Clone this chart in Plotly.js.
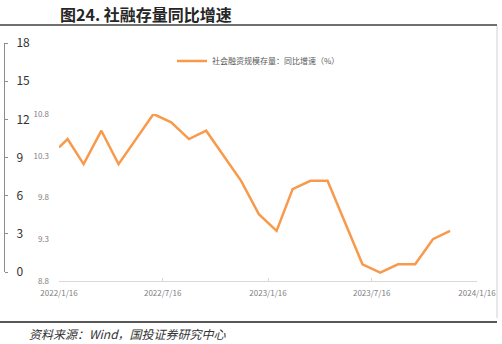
<!DOCTYPE html>
<html>
<head>
<meta charset="utf-8">
<script src="https://cdn.plot.ly/plotly-3.0.1.min.js"></script>
<style>html,body{margin:0;padding:0;background:#fff;}#chart{width:502px;height:344px;}</style>
</head>
<body>
<div id="chart"></div>
<script>
// Data
const dates = ['2022-01-16','2022-01-31','2022-02-28','2022-03-31','2022-04-30','2022-05-31','2022-06-30',
  '2022-07-31','2022-08-31','2022-09-30','2022-10-31','2022-11-30','2022-12-31',
  '2023-01-31','2023-02-28','2023-03-31','2023-04-30','2023-05-31','2023-06-30',
  '2023-07-31','2023-08-31','2023-09-30','2023-10-31','2023-11-30'];
const growth = [10.4,10.5,10.2,10.6,10.2,10.5,10.8,10.7,10.5,10.6,10.3,10.0,9.6,
  9.4,9.9,10.0,10.0,9.5,9.0,8.9,9.0,9.0,9.3,9.4];
const seriesName = '社会融资规模存量：同比增速（%）';
const yTicks = [8.8, 9.3, 9.8, 10.3, 10.8];
const xTicks = ['2022-01-16','2022-07-16','2023-01-16','2023-07-16','2024-01-16'];
const xTickText = ['2022/1/16','2022/7/16','2023/1/16','2023/7/16','2024/1/16'];
const leftTicks = [0, 3, 6, 9, 12, 15, 18];
const titleText = '图24. 社融存量同比增速';
const sourceText = '资料来源：Wind，国投证券研究中心';

const W = 502, H = 344;
const px = v => v / W;
const py = v => 1 - v / H;

const traces = [
  {
    x: dates, y: growth, type: 'scatter', mode: 'lines', name: seriesName,
    line: {color: '#F79A4C', width: 2.5}, cliponaxis: false, hoverinfo: 'skip'
  },
  {
    x: [null], y: [null], xaxis: 'x2', yaxis: 'y2', type: 'scatter', mode: 'lines',
    showlegend: false, hoverinfo: 'skip'
  }
];

const layout = {
  width: W, height: H,
  margin: {l: 0, r: 0, t: 0, b: 0},
  paper_bgcolor: '#fff', plot_bgcolor: 'rgba(0,0,0,0)',
  font: {family: '"Noto Sans CJK SC", "Noto Sans", sans-serif', color: '#808080'},
  showlegend: true,
  legend: {
    x: px(172), y: py(61), xanchor: 'left', yanchor: 'middle',
    orientation: 'h', bgcolor: 'rgba(0,0,0,0)',
    font: {size: 8, color: '#595959'}
  },
  xaxis: {
    domain: [px(59), px(477)], anchor: 'y',
    type: 'date', range: ['2022-01-16', '2024-01-16'],
    tickvals: xTicks, ticktext: xTickText,
    showgrid: false, zeroline: false,
    showline: true, linecolor: '#d9d9d9', linewidth: 1,
    ticks: 'inside', ticklen: 3, tickcolor: '#d9d9d9',
    ticklabelstandoff: 4,
    tickfont: {size: 8, color: '#808080'}
  },
  yaxis: {
    domain: [py(281), py(114)], anchor: 'x',
    range: [8.8, 10.8], tickvals: yTicks, ticktext: yTicks.map(v => v.toFixed(1)),
    showgrid: false, zeroline: false, showline: false, ticks: '',
    ticklabelstandoff: 9,
    tickfont: {size: 8, color: '#808080'}
  },
  xaxis2: {domain: [0, 0.01], anchor: 'y2', visible: false, range: [0, 1]},
  yaxis2: {
    domain: [py(272), py(43)], anchor: 'free', position: px(4), side: 'right',
    range: [0, 18], tickvals: leftTicks,
    showgrid: false, zeroline: false,
    showline: true, linecolor: '#8c8c8c', linewidth: 1,
    ticks: 'outside', ticklen: 3, tickcolor: '#8c8c8c',
    ticklabelstandoff: 6,
    tickfont: {size: 12, color: '#333'}
  },
  shapes: [
    {type: 'line', xref: 'paper', yref: 'paper', x0: 0, x1: px(497), y0: py(25), y1: py(25),
      line: {color: '#404040', width: 1.5}},
    {type: 'line', xref: 'paper', yref: 'paper', x0: 0, x1: px(497), y0: py(322), y1: py(322),
      line: {color: '#202020', width: 1.5}},
    {type: 'line', xref: 'paper', yref: 'paper', x0: px(497), x1: px(497), y0: py(26), y1: py(318),
      line: {color: '#d0d0d0', width: 1}}
  ],
  annotations: [
    {text: '<b>' + titleText + '</b>', xref: 'paper', yref: 'paper', x: px(58), y: py(14),
      xanchor: 'left', yanchor: 'middle', showarrow: false,
      font: {size: 16, color: '#262626', family: '"Noto Sans CJK SC", sans-serif'}},
    {text: sourceText, xref: 'paper', yref: 'paper', x: px(27), y: py(333),
      xanchor: 'left', yanchor: 'middle', showarrow: false,
      font: {size: 12, color: '#333', style: 'italic', family: '"Noto Sans CJK SC", sans-serif'}}
  ]
};

Plotly.newPlot('chart', traces, layout, {displayModeBar: false, staticPlot: true});
</script>
</body>
</html>
